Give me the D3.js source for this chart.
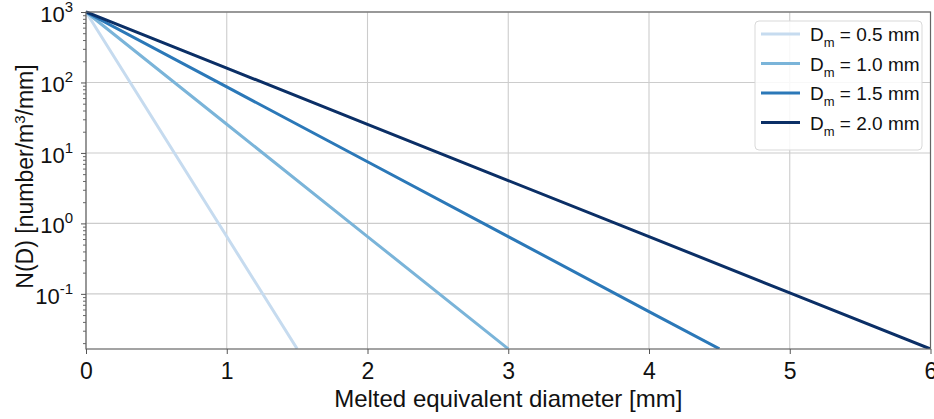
<!DOCTYPE html>
<html><head><meta charset="utf-8">
<script src="https://cdn.jsdelivr.net/npm/d3@7"></script>
<style>body{margin:0;background:#fff}svg{display:block}text{font-family:"Liberation Sans",Arial,sans-serif}</style>
</head><body><svg id="c" width="934" height="419"></svg>
<script>
// Data
const diameters05 = [0, 0.5, 1.0, 1.5];
const values05 = [1000, 25.5, 0.65, 0.0166];
const diameters10 = [0, 1, 2, 3];
const values10 = [1000, 25.5, 0.65, 0.0166];
const diameters15 = [0, 1, 2, 3, 4, 4.5];
const values15 = [1000, 86.6, 7.5, 0.65, 0.056, 0.0166];
const diameters20 = [0, 1, 2, 3, 4, 5, 6];
const values20 = [1000, 160, 25.5, 4.05, 0.65, 0.103, 0.0165];
const seriesLabels = ["0.5", "1.0", "1.5", "2.0"];
const xTicks = [0, 1, 2, 3, 4, 5, 6];
const yTickExponents = [3, 2, 1, 0, -1];
const colors = ["#c6dbef", "#7ab4d9", "#2b78b8", "#0b2f66"];

const series = [
  {x: diameters05, y: values05},
  {x: diameters10, y: values10},
  {x: diameters15, y: values15},
  {x: diameters20, y: values20}
];

const FONT = "Liberation Sans, Arial, sans-serif";
const svg = d3.select("#c");
const L = 86, R = 930.5, T = 12, B = 349;
const x = d3.scaleLinear().domain([0, 6]).range([L, R]);
const y = d3.scaleLog().domain([0.0165, 1000]).range([B, T]);

// grid
const grid = svg.append("g");
xTicks.forEach(t => grid.append("line").attr("x1", x(t)).attr("x2", x(t)).attr("y1", T).attr("y2", B)
  .attr("stroke", "#cccccc").attr("stroke-width", 1.1));
yTickExponents.forEach(e => grid.append("line").attr("x1", L).attr("x2", R).attr("y1", y(Math.pow(10, e))).attr("y2", y(Math.pow(10, e)))
  .attr("stroke", "#cccccc").attr("stroke-width", 1.1));

// clip
svg.append("clipPath").attr("id", "clip").append("rect").attr("x", L).attr("y", T - 2).attr("width", R - L + 2).attr("height", B - T + 2);

const line = d3.line().x(d => x(d[0])).y(d => y(d[1]));
const lines = svg.append("g").attr("clip-path", "url(#clip)");
series.forEach((s, i) => {
  const pts = s.x.map((v, k) => [v, s.y[k]]);
  lines.append("path").attr("d", line(pts)).attr("fill", "none").attr("stroke", colors[i]).attr("stroke-width", 3);
});

// frame
svg.append("rect").attr("x", L).attr("y", T).attr("width", R - L).attr("height", B - T)
  .attr("fill", "none").attr("stroke", "#666").attr("stroke-width", 1.2);

// x axis
const xAxis = d3.axisBottom(x).tickValues(xTicks).tickFormat(d3.format("d")).tickSize(5).tickPadding(9);
const gx = svg.append("g").attr("transform", `translate(0,${B})`).call(xAxis)
  .attr("font-family", FONT).attr("font-size", 23);
gx.select(".domain").remove();
gx.selectAll(".tick line").attr("stroke", "#555");
gx.selectAll(".tick text").attr("fill", "#111");

// y axis minor ticks
const minor = [];
for (let e = -2; e <= 2; e++) for (let m = 2; m <= 9; m++) {
  const v = m * Math.pow(10, e);
  if (v >= 0.0165 && v <= 1000) minor.push(v);
}
const gyMinor = svg.append("g").attr("transform", `translate(${L},0)`)
  .call(d3.axisLeft(y).tickValues(minor).tickSize(3).tickFormat(""));
gyMinor.select(".domain").remove();
gyMinor.selectAll(".tick line").attr("stroke", "#666");

const gy = svg.append("g").attr("transform", `translate(${L},0)`)
  .call(d3.axisLeft(y).tickValues(yTickExponents.map(e => Math.pow(10, e))).tickSize(5).tickFormat(""));
gy.select(".domain").remove();
gy.selectAll(".tick line").attr("stroke", "#555");
yTickExponents.forEach(e => {
  const t = svg.append("text").attr("x", L - 13).attr("y", y(Math.pow(10, e)) + 10)
    .attr("text-anchor", "end").attr("font-size", 22).attr("fill", "#111");
  t.append("tspan").text("10");
  t.append("tspan").attr("dy", -10).attr("font-size", 15).text(String(e));
});

// axis titles
svg.append("text").attr("x", (L + R) / 2).attr("y", 407).attr("text-anchor", "middle")
  .attr("font-size", 24).attr("fill", "#111").text("Melted equivalent diameter [mm]");
const yl = svg.append("text").attr("transform", `translate(33,${(T + B) / 2 - 4}) rotate(-90)`)
  .attr("text-anchor", "middle").attr("font-size", 23).attr("fill", "#111");
yl.append("tspan").text("N(D) [number/m");
yl.append("tspan").attr("dy", -8).attr("font-size", 15).text("3");
yl.append("tspan").attr("dy", 8).text("/mm]");

// legend
const lg = svg.append("g");
lg.append("rect").attr("x", 755).attr("y", 21).attr("width", 167).attr("height", 129).attr("rx", 4)
  .attr("fill", "#fff").attr("fill-opacity", 0.85).attr("stroke", "#d9d9d9");
seriesLabels.forEach((lab, i) => {
  const cy = 34 + i * 29.5;
  lg.append("line").attr("x1", 761).attr("x2", 800).attr("y1", cy).attr("y2", cy)
    .attr("stroke", colors[i]).attr("stroke-width", 3);
  const t = lg.append("text").attr("x", 810).attr("y", cy + 7).attr("font-size", 19).attr("fill", "#111");
  t.append("tspan").text("D");
  t.append("tspan").attr("dy", 6).attr("font-size", 13).text("m");
  t.append("tspan").attr("dy", -6).text(" = " + lab + " mm");
});
</script></body></html>
